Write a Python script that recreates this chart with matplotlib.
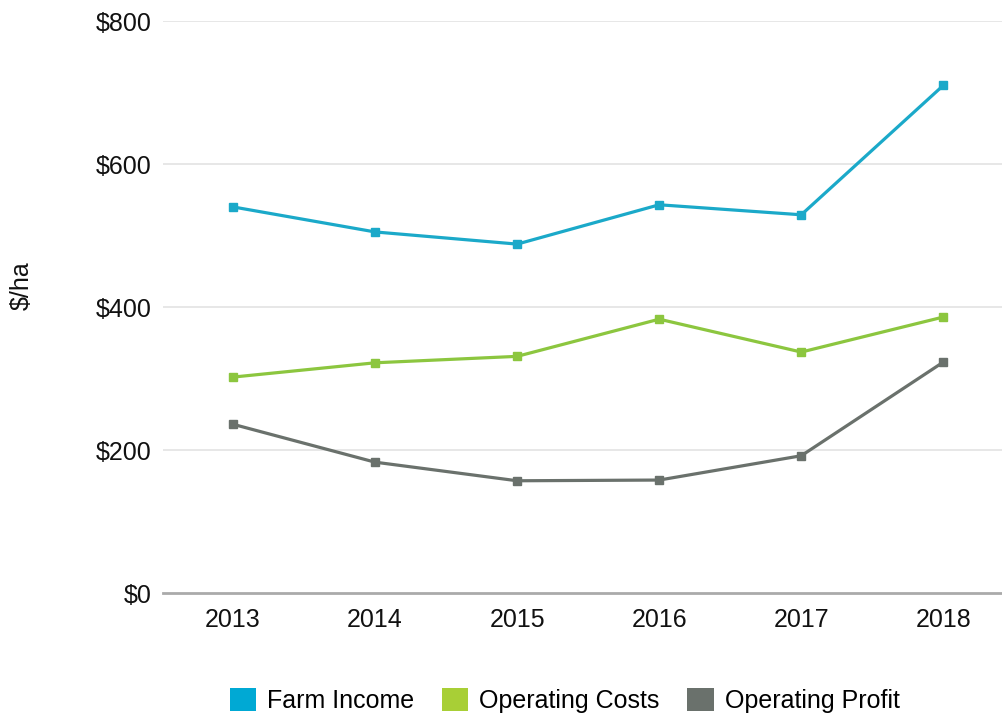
import matplotlib
matplotlib.use("Agg")
import matplotlib.pyplot as plt
from matplotlib.patches import Patch

plt.rcParams['font.family'] = ['Liberation Sans', 'DejaVu Sans']

years = ["2013", "2014", "2015", "2016", "2017", "2018"]
farm_income = [540, 505, 488, 543, 529, 710]
operating_costs = [302, 322, 331, 383, 337, 386]
operating_profit = [236, 183, 157, 158, 192, 323]

series_names = ["Farm Income", "Operating Costs", "Operating Profit"]
line_colors = ["#1BA9C9", "#8CC63F", "#6A716C"]
patch_colors = ["#00A9D4", "#A8CF36", "#6A716C"]
y_ticks = [0, 200, 400, 600, 800]
y_tick_labels = ["$0", "$200", "$400", "$600", "$800"]

fig = plt.figure(figsize=(10.03, 7.15), dpi=100)
ax = fig.add_axes([0.1625, 0.1706, 0.8375, 0.80])

x = list(range(len(years)))
for vals, c in zip([farm_income, operating_costs, operating_profit], line_colors):
    ax.plot(x, vals, color=c, lw=2.3, marker="s", markersize=5.5, zorder=3)

ax.set_ylim(0, 800)
ax.set_xlim(-0.493, 5.42)
ax.set_yticks(y_ticks)
ax.set_yticklabels(y_tick_labels)
ax.set_xticks(x)
ax.set_xticklabels(years)
ax.tick_params(axis="both", length=0, labelsize=18, colors="#111111")
ax.tick_params(axis="y", pad=8)
ax.tick_params(axis="x", pad=11)
for yv in y_ticks[1:]:
    ax.axhline(yv, color="#E3E3E3", lw=1.2, zorder=1)
for s in ["top", "right", "left"]:
    ax.spines[s].set_visible(False)
ax.spines["bottom"].set_color("#AAAAAA")
ax.spines["bottom"].set_linewidth(2)

fig.text(0.022, 0.60, "$/ha", rotation=90, fontsize=18, ha="center", va="center", color="#111111")

handles = [Patch(facecolor=c, edgecolor="none") for c in patch_colors]
fig.legend(handles, series_names, loc="center", bbox_to_anchor=(0.563, 0.020),
           ncol=3, frameon=False, fontsize=18, handlelength=1.05, handleheight=1.05,
           handletextpad=0.45, columnspacing=1.1)

fig.savefig("out.png", dpi=100)
